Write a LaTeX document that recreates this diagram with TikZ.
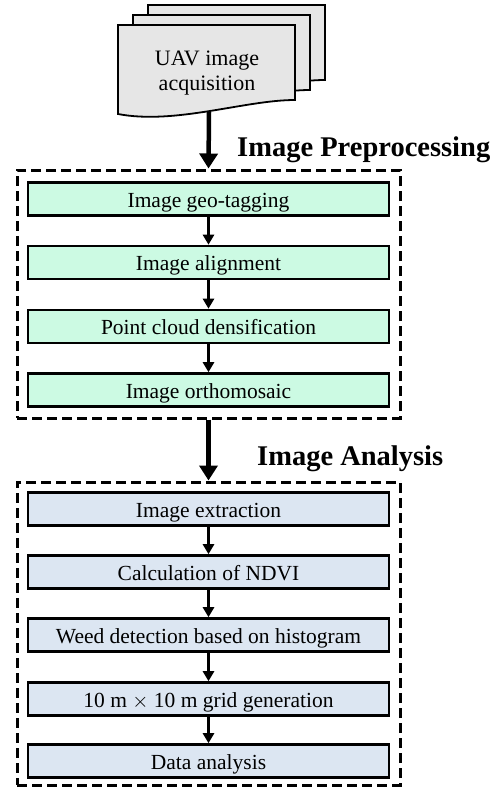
\documentclass[tikz,border=0pt]{standalone}
\usepackage{fontspec}
\setmainfont{Liberation Serif}
\usetikzlibrary{arrows.meta}

\definecolor{prefill}{HTML}{CCFAE3}
\definecolor{anafill}{HTML}{DCE6F2}
\definecolor{docfill}{HTML}{E6E6E6}

\tikzset{
  stepbox/.style={draw=black, line width=2.6pt, minimum width=361pt, minimum height=33pt,
    inner sep=0pt, text height=18pt, text depth=2pt, font=\fontsize{21.5}{25}\selectfont},
  prebox/.style={stepbox, fill=prefill},
  anabox/.style={stepbox, fill=anafill},
  groupbox/.style={draw=black, line width=3pt, dash pattern=on 10pt off 5pt, inner sep=0pt},
  grouptitle/.style={font=\fontsize{28.5}{32}\selectfont\bfseries, anchor=base west, inner sep=0pt},
  thinarrow/.style={draw=black, line width=2.6pt, -{Triangle[length=10pt,width=11pt]}},
  thickarrow/.style={draw=black, line width=4.5pt, -{Triangle[length=15pt,width=18pt]}},
  docpage/.style={draw=black, line width=1.8pt, fill=docfill},
}

\begin{document}
\begin{tikzpicture}[x=1pt,y=-1pt]
  \useasboundingbox (0,0) rectangle (503,789);

  % stacked document symbol (back pages first)
  \foreach \dx/\dy in {30/-20, 15/-10, 0/0} {
    \path[docpage, shift={(\dx,\dy)}]
      (118,25) -- (295,25) -- (295,100)
      .. controls (245,100) and (175,125) .. (118,114) -- cycle;
  }
  \node[align=center, font=\fontsize{22}{25}\selectfont, inner sep=0pt] (uav) at (207,73)
    {UAV image\\acquisition};
  \coordinate (docbot) at (209,112);

  % image preprocessing group
  \node[groupbox, minimum width=383pt, minimum height=248pt] (pre) at (208.5,294) {};
  \node[grouptitle] (pretitle) at (237,156) {Image Preprocessing};
  \node[prebox] (p1) at (208.5,199) {Image geo-tagging};
  \node[prebox] (p2) at (208.5,262.5) {Image alignment};
  \node[prebox] (p3) at (208.5,326.5) {Point cloud densification};
  \node[prebox] (p4) at (208.5,390) {Image orthomosaic};

  % image analysis group
  \node[groupbox, minimum width=383pt, minimum height=303pt] (ana) at (208.5,633.5) {};
  \node[grouptitle] (anatitle) at (257,465) {Image Analysis};
  \node[anabox] (a1) at (208.5,509) {Image extraction};
  \node[anabox] (a2) at (208.5,572) {Calculation of NDVI};
  \node[anabox] (a3) at (208.5,635) {Weed detection based on histogram};
  \node[anabox] (a4) at (208.5,699) {10 m $\times$ 10 m grid generation};
  \node[anabox] (a5) at (208.5,761) {Data analysis};

  % connectors
  \draw[thickarrow] (docbot) -- (pre.north);
  \draw[thickarrow] (pre.south) -- (ana.north);
  \draw[thinarrow] (p1) -- (p2);
  \draw[thinarrow] (p2) -- (p3);
  \draw[thinarrow] (p3) -- (p4);
  \draw[thinarrow] (a1) -- (a2);
  \draw[thinarrow] (a2) -- (a3);
  \draw[thinarrow] (a3) -- (a4);
  \draw[thinarrow] (a4) -- (a5);
\end{tikzpicture}
\end{document}
